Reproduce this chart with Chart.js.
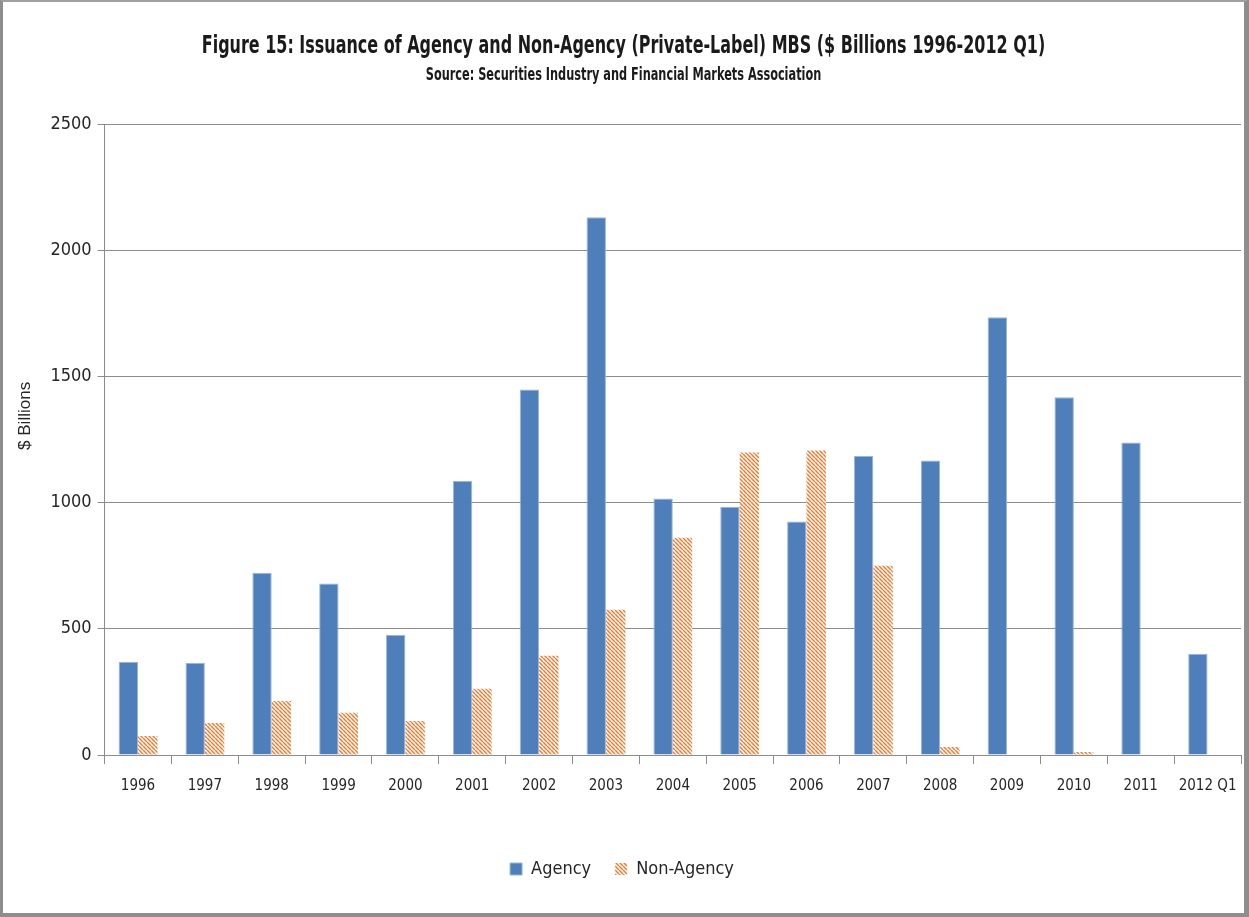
<!DOCTYPE html>
<html>
<head>
<meta charset="utf-8">
<script src="https://cdn.jsdelivr.net/npm/chart.js@4/dist/chart.umd.min.js"></script>
<style>
  body { margin: 0; background: #fff; }
  #frame {
    position: absolute; left: 0; top: 0;
    width: 1249px; height: 917px;
    box-sizing: border-box;
    border-left: 3px solid #8e8e8e;
    border-right: 5px solid #8e8e8e;
    border-top: 2px solid #a0a0a0;
    border-bottom: 4px solid #8e8e8e;
    background: #fff;
  }
  #wrap { position: relative; width: 1241px; height: 911px; }
  .ttl {
    position: absolute; left: 0; width: 1241px; text-align: center;
    font-family: 'DejaVu Sans Condensed', 'Liberation Sans Narrow', sans-serif;
    font-weight: bold; color: #1a1a1a; white-space: nowrap;
  }
  #t1 { top: 28px; font-size: 25px; transform: scaleX(0.71); }
  #t2 { top: 62px; font-size: 17px; transform: scaleX(0.74); }
</style>
</head>
<body>
<div id="frame"><div id="wrap">
  <canvas id="myChart"></canvas>
  <div class="ttl" id="t1">Figure 15: Issuance of Agency and Non-Agency (Private-Label) MBS ($ Billions 1996-2012 Q1)</div>
  <div class="ttl" id="t2">Source: Securities Industry and Financial Markets Association</div>
</div></div>
<script>
var years = ["1996","1997","1998","1999","2000","2001","2002","2003","2004","2005","2006","2007","2008","2009","2010","2011","2012 Q1"];

var agency = [369,365,722,679,476,1087,1448,2131,1016,984,925,1186,1167,1734,1417,1238,401];

var nonagency = [75,127,214,167,135,262,393,575,861,1198,1206,750,32,0,12,0,0];

var yticks = [0,500,1000,1500,2000,2500];

// diagonal orange/white stripes like the excel fill
function stripes() {
  var c = document.createElement("canvas");
  c.width = 4; c.height = 4;
  var g = c.getContext("2d");
  g.fillStyle = "#ffffff";
  g.fillRect(0, 0, 4, 4);
  g.strokeStyle = "#eb7d33";
  g.lineWidth = 1.5;
  for (var k = -4; k <= 8; k += 4) {
    g.beginPath();
    g.moveTo(k, 0);
    g.lineTo(k + 4, 4);
    g.stroke();
  }
  return g.createPattern(c, "repeat");
}
var hatch = stripes();

var narrow = "'DejaVu Sans Condensed', 'Liberation Sans Narrow', sans-serif";

var data = {
  labels: years,
  datasets: [
    {
      label: "Agency",
      backgroundColor: "#4f7fba",
      borderColor: "#9bb5d8",
      borderWidth: 1,
      data: agency
    },
    {
      label: "Non-Agency",
      backgroundColor: hatch,
      borderWidth: 0,
      data: nonagency
    }
  ]
};

var options = {
  responsive: true,
  maintainAspectRatio: false,
  animation: false,
  layout: { padding: { left: 0, right: 3, top: 122, bottom: 25 } },
  datasets: { bar: { categoryPercentage: 0.58, barPercentage: 1.0 } },
  plugins: {
    legend: {
      position: "bottom",
      labels: {
        boxWidth: 12, boxHeight: 12,
        padding: 24,
        color: "#262626",
        font: { family: narrow, size: 18 }
      }
    },
    tooltip: { enabled: false }
  },
  scales: {
    x: {
      grid: { display: true, drawOnChartArea: false, color: "#8c8c8c", tickLength: 9 },
      border: { color: "#8c8c8c" },
      ticks: {
        color: "#262626", padding: 4, maxRotation: 0, autoSkip: false,
        font: { family: narrow, size: 15, lineHeight: 2.4 }
      },
      afterFit: function (s) { s.height += 28; }
    },
    y: {
      min: 0, max: 2500,
      afterBuildTicks: function (ax) { ax.ticks = yticks.map(function (v) { return { value: v }; }); },
      grid: { color: "#8c8c8c", tickLength: 7 },
      border: { color: "#8c8c8c" },
      ticks: {
        color: "#262626", padding: 6,
        font: { family: narrow, size: 18 },
        callback: function (v) { return String(v); }
      },
      title: {
        display: true, text: "          $ Billions", color: "#262626",
        font: { family: "'Liberation Sans', Arial, sans-serif", size: 17 },
        padding: { top: 12, bottom: 9 }
      }
    }
  }
};

var ctx = document.getElementById("myChart").getContext("2d");
var barChart = new Chart(ctx, { type: "bar", data: data, options: options });
</script>
</body>
</html>
